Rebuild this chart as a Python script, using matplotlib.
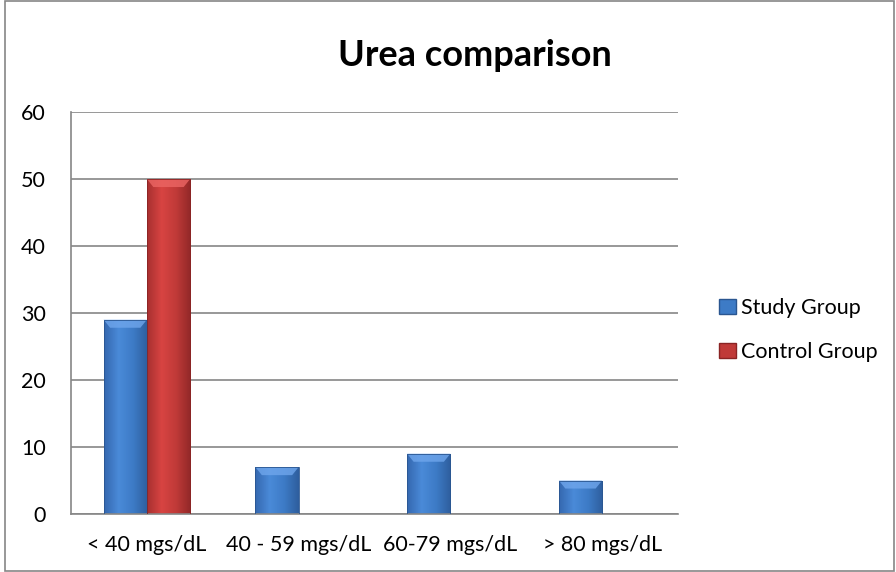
import numpy as np
import matplotlib.pyplot as plt
from matplotlib.patches import Rectangle
from matplotlib.colors import LinearSegmentedColormap

categories = ["< 40 mgs/dL", "40 - 59 mgs/dL", "60-79 mgs/dL", "> 80 mgs/dL"]
study = [29, 7, 9, 5]
control = [50, 0, 0, 0]

plt.rcParams['font.family'] = ['Lato', 'DejaVu Sans']

fig = plt.figure(figsize=(8.96, 5.72), dpi=100)
ax = fig.add_axes([71 / 896, 1 - 514 / 572, (678 - 71) / 896, (514 - 112) / 572])

x = np.arange(len(categories))
w = 0.285

blue_cmap = LinearSegmentedColormap.from_list("b", ["#3568B0", "#4A8AD8", "#3D7BC6", "#2E5E9E"])
red_cmap = LinearSegmentedColormap.from_list("r", ["#A83030", "#D84442", "#C03A38", "#922828"])

def gradient_bars(xs, vals, cmap, edge, top):
    bars = ax.bar(xs, vals, w, color="none", edgecolor=edge, linewidth=0.6, zorder=3)
    grad = np.linspace(0, 1, 64).reshape(1, -1)
    for b in bars:
        if b.get_height() <= 0:
            continue
        x0, y0 = b.get_x(), b.get_y()
        bw, bh = b.get_width(), b.get_height()
        im = ax.imshow(grad, cmap=cmap, aspect="auto", zorder=2,
                       extent=[x0, x0 + bw, y0, y0 + bh])
        im.set_clip_path(b)
        # light bevel on top of bar
        d = min(1.2, bh * 0.3)
        ax.fill([x0, x0 + bw, x0 + bw * 0.85, x0 + bw * 0.15],
                [y0 + bh, y0 + bh, y0 + bh - d, y0 + bh - d],
                color=top, alpha=0.8, zorder=2.5, lw=0)
    return bars

sb = gradient_bars(x - w / 2, study, blue_cmap, "#2A5690", "#6FA6EC")
cb = gradient_bars(x + w / 2, control, red_cmap, "#8A2424", "#EC6664")

ax.set_xlim(-0.5, len(categories) - 0.5)
ax.set_ylim(0, 60)
ax.set_yticks(range(0, 61, 10))
ax.set_xticks(x)
ax.set_xticklabels(categories, fontsize=15.5)
ax.tick_params(axis="y", labelsize=15.5, length=0, pad=18)
ax.tick_params(axis="x", length=0, pad=15)
ax.grid(axis="y", color="#868686", linewidth=1.2)
ax.set_axisbelow(True)
for s in ["top", "right"]:
    ax.spines[s].set_visible(False)
ax.spines["left"].set_color("#868686")
ax.spines["bottom"].set_color("#868686")
ax.spines["left"].set_linewidth(1.2)
ax.spines["bottom"].set_linewidth(1.2)

fig.text(475 / 896, 1 - 55 / 572, "Urea comparison", fontsize=26, fontweight="bold",
         ha="center", va="center")

proxy_s = Rectangle((0, 0), 1, 1, facecolor="#3D7BC6", edgecolor="#2A5690")
proxy_c = Rectangle((0, 0), 1, 1, facecolor="#C03A38", edgecolor="#8A2424")
fig.legend([proxy_s, proxy_c], ["Study Group", "Control Group"],
           loc="center left", bbox_to_anchor=(708 / 896, 1 - 330 / 572),
           frameon=False, fontsize=15.5, handlelength=0.8, handleheight=0.7,
           handletextpad=0.25, labelspacing=1.1, borderpad=0)

fig.patches.append(Rectangle((5 / 896, 1 / 572), 889 / 896, 570 / 572, transform=fig.transFigure,
                             fill=False, edgecolor="#868686", linewidth=1.2))

fig.savefig("out.png", dpi=100, facecolor="white")
